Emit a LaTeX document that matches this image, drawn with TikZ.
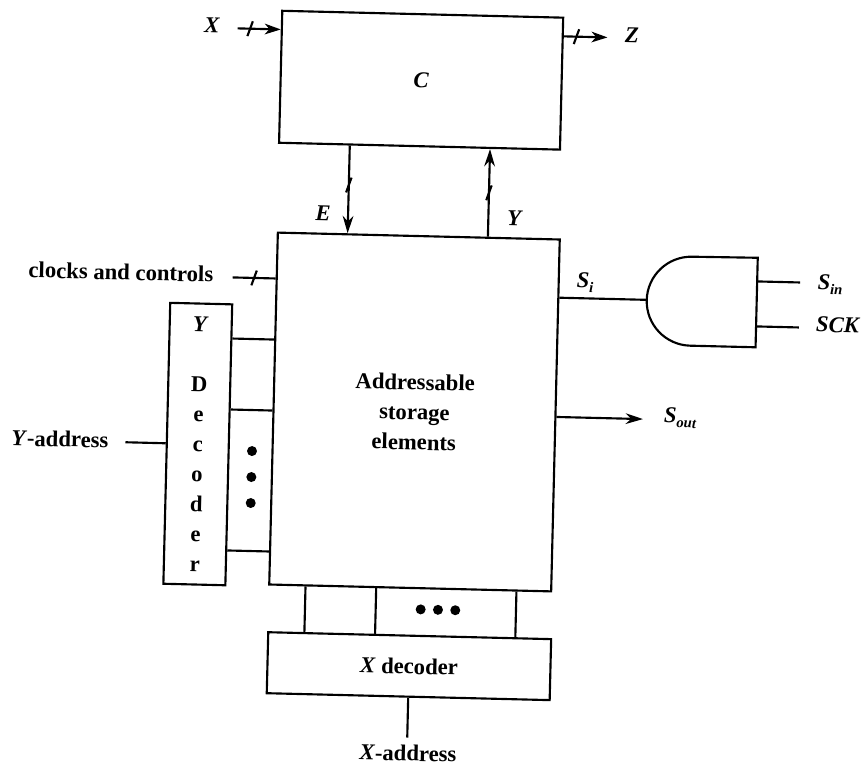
\documentclass[tikz,border=0pt]{standalone}
\usepackage{fontspec}
\setmainfont{Liberation Serif}
\usetikzlibrary{positioning, arrows.meta}
\newcommand{\lab}[1]{\textit{#1}}
\newcommand{\subs}[1]{\raisebox{-3.5pt}{\fontsize{11}{11}\selectfont\textit{#1}}}

\begin{document}
\begin{tikzpicture}[
        x=0.75pt, y=-0.75pt,
        every node/.style={font=\fontsize{17}{22.5}\selectfont\bfseries},
        box/.style={draw, line width=1.6pt, inner sep=0pt, align=center},
        wire/.style={-, line width=1.6pt},
        arrow/.style={-{Stealth[length=13pt, width=8pt]}, line width=1.6pt},
        barb/.style={-{Stealth[length=12pt, width=8pt, inset=3.5pt]}, line width=1.6pt},
        dot/.style={circle, fill, inner sep=0pt, minimum size=7.5pt},
        slash/.pic={\draw[-, line width=1.6pt] (-1.9pt,-5.6pt) -- (1.9pt,5.6pt);}
    ]
    \useasboundingbox (0,0) rectangle (863,766);
    \begin{scope}[transform canvas={rotate around={-1.4:(431,383)}}]

    % Main blocks
    \node[box, minimum width=211.5pt, minimum height=264pt] (storage) at (415.2,412.4) {Addressable\\storage\\elements};
    \node[box, above=65.8pt of storage, xshift=-1.1pt, minimum width=210.75pt, minimum height=99pt] (cmod) {\lab{C}};
    \node[box, below=34.2pt of storage, xshift=0.5pt, minimum width=212.25pt, minimum height=45.75pt] (xdec) {\lab{X} decoder};
    \node[box, left=31.3pt of storage, yshift=-28pt, minimum width=46.5pt, minimum height=210.75pt] (ydec) {\lab{Y}\\[22.5pt]D\\e\\c\\o\\d\\e\\r};

    % Gate
    \node[inner sep=0pt, minimum width=82.5pt, minimum height=66.75pt, right=65.1pt of storage, yshift=88.35pt] (gate) {};
    \draw[wire] (gate.north east) -- (gate.south east) -- ++(-49.1pt,0pt)
        arc[start angle=270, end angle=90, radius=33.375pt] -- cycle;

    % Free ends
    \coordinate (xin) at (229,33.2);
    \coordinate (zout) at (599,33.2);
    \coordinate (clkin) at (230,282.3);
    \coordinate (yaddr) at (127,449.7);
    \coordinate (xaddr) at (415.9,738);
    \coordinate (sout) at (643.8,413.9);
    \coordinate (sinend) at (797.5,273.5);
    \coordinate (sckend) at (797.5,318.5);

    % Top block connections
    \draw[barb] (xin) -- pic[pos=0.29]{slash} (cmod.west |- xin);
    \draw[barb] (cmod.east |- zout) -- pic[pos=0.29]{slash} (zout);
    \draw[arrow] (344,0 |- cmod.south) -- pic[pos=0.45]{slash} (344,0 |- storage.north);
    \draw[arrow] (484.3,0 |- storage.north) -- pic[pos=0.5]{slash} (484.3,0 |- cmod.south);

    % Left side
    \draw[wire] (clkin) -- pic[pos=0.5]{slash} (storage.west |- clkin);
    \draw[wire] (yaddr) -- (ydec.west);
    \foreach \y in {343.4, 414.4, 555.4}
        \draw[wire] (ydec.east |- 0,\y) -- (storage.west |- 0,\y);
    \foreach \y [count=\i] in {455.4, 481.4, 507.4}
        \node[dot] (ydot\i) at (253.7,\y) {};

    % Bottom
    \foreach \x in {310.5, 381.2, 521.5}
        \draw[wire] (\x,0 |- storage.south) -- (\x,0 |- xdec.north);
    \foreach \x [count=\i] in {426.2, 443.5, 460.8}
        \node[dot] (xdot\i) at (\x,609.6) {};
    \draw[wire] (xdec.south) -- (xaddr);

    % Right side
    \draw[wire] (storage.east |- gate.west) -- (gate.west);
    \draw[arrow] (storage.east |- sout) -- (sout);
    \draw[wire] (gate.east |- sinend) -- (sinend);
    \draw[wire] (gate.east |- sckend) -- (sckend);

    % Labels
    \node (xlab) at (203.3,30.3) {\lab{X}};
    \node (zlab) at (623.5,30) {\lab{Z}};
    \node (elab) at (319,216) {\lab{E}};
    \node (ylab) at (511,216) {\lab{Y}};
    \node (clklab) at (118.3,279.6) {clocks and controls};
    \node (yaddrlab) at (61.4,448) {\lab{Y}-address};
    \node (xaddrlab) at (417,753.6) {\lab{X}-address};
    \node (silab) at (582.6,279) {\lab{S}\subs{i}};
    \node (sinlab) at (827.6,275) {\lab{S}\subs{in}};
    \node (scklab) at (836.6,315) {\lab{SCK}};
    \node (soutlab) at (681,412) {\lab{S}\subs{out}};

    \end{scope}
\end{tikzpicture}
\end{document}
